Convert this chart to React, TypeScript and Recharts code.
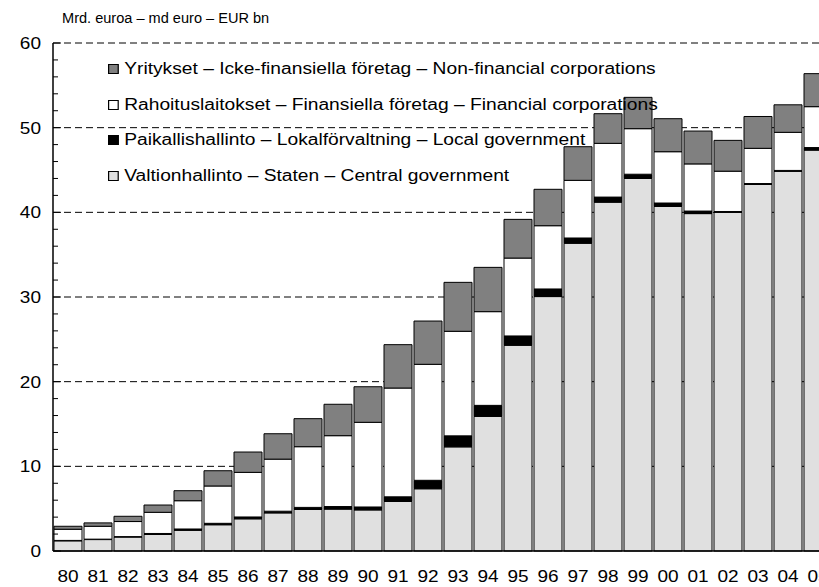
import { BarChart, Bar, XAxis, YAxis, CartesianGrid } from "recharts";

const years = ["80", "81", "82", "83", "84", "85", "86", "87", "88", "89", "90", "91", "92",
  "93", "94", "95", "96", "97", "98", "99", "00", "01", "02", "03", "04", "05"];

// Valtionhallinto – central government
const central = [1.2, 1.35, 1.65, 1.95, 2.45, 3.1, 3.8, 4.5, 4.9, 4.95, 4.85, 5.85, 7.35,
  12.3, 15.9, 24.3, 30.05, 36.35, 41.2, 44.0, 40.7, 39.85, 40.0, 43.3, 44.85, 47.35];
// Paikallishallinto – local government
const local = [0.05, 0.05, 0.05, 0.12, 0.15, 0.17, 0.22, 0.2, 0.25, 0.3, 0.35, 0.55, 1.0,
  1.3, 1.3, 1.1, 0.9, 0.62, 0.6, 0.5, 0.4, 0.3, 0.1, 0.1, 0.1, 0.3];
// Rahoituslaitokset – financial corporations
const financial = [1.32, 1.52, 1.78, 2.5, 3.34, 4.41, 5.27, 6.15, 7.17, 8.37, 10.0, 12.85, 13.7,
  12.35, 11.07, 9.2, 7.47, 6.81, 6.35, 5.38, 6.06, 5.57, 4.76, 4.16, 4.5, 4.83];
// Yritykset – non-financial corporations
const nonFinancial = [0.35, 0.4, 0.62, 0.86, 1.18, 1.8, 2.4, 3.0, 3.31, 3.71, 4.2, 5.12, 5.11,
  5.78, 5.23, 4.57, 4.3, 3.97, 3.5, 3.7, 3.9, 3.88, 3.64, 3.76, 3.25, 3.9];

const yTicks = [0, 2, 4, 6, 8, 10, 12, 14, 16, 18, 20, 22, 24, 26, 28, 30,
  32, 34, 36, 38, 40, 42, 44, 46, 48, 50, 52, 54, 56, 58, 60];
const gridValues = [10, 20, 30, 40, 50, 60];

const legendItems = [
  { label: "Yritykset – Icke-finansiella företag – Non-financial corporations", color: "#808080" },
  { label: "Rahoituslaitokset – Finansiella företag – Financial corporations", color: "#ffffff" },
  { label: "Paikallishallinto – Lokalförvaltning – Local government", color: "#000000" },
  { label: "Valtionhallinto – Staten – Central government", color: "#e0e0e0" },
];

const data = years.map((y, i) => ({
  year: y,
  central: central[i],
  local: local[i],
  financial: financial[i],
  nonFinancial: nonFinancial[i],
}));

const FONT = "'Liberation Sans', Arial, sans-serif";

function YTick(props: any) {
  const { x, y, payload } = props;
  const major = payload.value % 10 === 0;
  const ax = x + 12;
  return (
    <g>
      <line x1={ax} x2={ax + (major ? 8 : 5)} y1={y} y2={y} stroke="#000" strokeWidth={1} />
      {major && (
        <text x={x} y={y} dy="0.36em" textAnchor="end" fontSize={17}
          fontFamily={FONT} fill="#000"
          transform={`translate(${x} 0) scale(1.12 1) translate(${-x} 0)`}>
          {payload.value}
        </text>
      )}
    </g>
  );
}

function XTick(props: any) {
  const { x, y, payload } = props;
  return (
    <text x={x} y={y} dy="0.71em" textAnchor="middle" fontSize={17}
      fontFamily={FONT} fill="#000"
      transform={`translate(${x} 0) scale(1.12 1) translate(${-x} 0)`}>
      {payload.value}
    </text>
  );
}

export default function App() {
  return (
    <div style={{ position: "absolute", left: 0, top: 0, width: 819, height: 587, overflow: "hidden", background: "#fff" }}>
      <BarChart width={840} height={587} data={data}
        margin={{ top: 43, right: 7, left: 0, bottom: 0 }} barCategoryGap={1}>
        <CartesianGrid vertical={false} horizontalValues={gridValues}
          stroke="#000" strokeDasharray="7 4" />
        <XAxis dataKey="year" interval={0} tickSize={0} tickMargin={19} height={36}
          axisLine={{ stroke: "#000", strokeWidth: 1.5 }} tickLine={false} tick={<XTick />} />
        <YAxis domain={[0, 60]} ticks={yTicks} interval={0} width={53} tickSize={0} tickMargin={12}
          axisLine={{ stroke: "#000", strokeWidth: 1.5 }} tickLine={false} tick={<YTick />} />
        <Bar dataKey="central" stackId="a" fill="#e0e0e0" stroke="#000" strokeWidth={1} isAnimationActive={false} />
        <Bar dataKey="local" stackId="a" fill="#000000" stroke="#000" strokeWidth={1} isAnimationActive={false} />
        <Bar dataKey="financial" stackId="a" fill="#ffffff" stroke="#000" strokeWidth={1} isAnimationActive={false} />
        <Bar dataKey="nonFinancial" stackId="a" fill="#808080" stroke="#000" strokeWidth={1} isAnimationActive={false} />
      </BarChart>
      <div style={{ position: "absolute", left: 62, top: 10, fontFamily: FONT, fontSize: 14, color: "#000",
        whiteSpace: "nowrap", transform: "scaleX(1.04)", transformOrigin: "left center" }}>
        Mrd. euroa – md euro – EUR bn
      </div>
      {legendItems.map((item, i) => (
        <div key={item.label} style={{ position: "absolute", left: 108, top: 59 + i * 35.5, height: 20,
          display: "flex", alignItems: "center", fontFamily: FONT, fontSize: 16, color: "#000",
          whiteSpace: "nowrap", transform: "scaleX(1.2)", transformOrigin: "left center" }}>
          <span style={{ display: "inline-block", width: 8.5, height: 10, boxSizing: "border-box",
            border: "1px solid #000", background: item.color, marginRight: 5 }} />
          {item.label}
        </div>
      ))}
    </div>
  );
}
